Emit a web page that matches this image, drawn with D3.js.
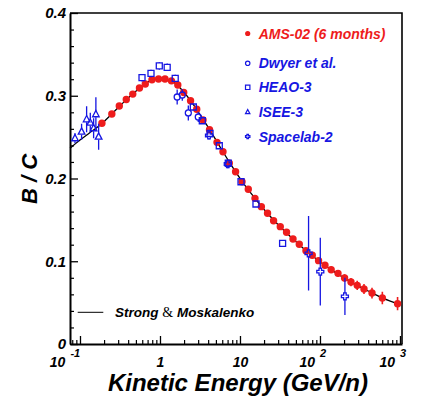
<!DOCTYPE html>
<html>
<head>
<meta charset="utf-8">
<script src="https://cdn.jsdelivr.net/npm/d3@7"></script>
<style>
  body { margin: 0; background: #fff; }
  svg { display: block; }
</style>
</head>
<body>
<svg id="chart" width="422" height="401"></svg>
<script>
// AMS-02 (6 months)
const amsE = [0.188, 0.250, 0.310, 0.379, 0.457, 0.554, 0.655, 0.794, 0.96, 1.155, 1.39, 1.67, 1.98, 2.41, 2.88,
  3.45, 4.16, 5.16, 6.13, 7.35, 8.81, 10.6, 12.7, 15.4, 18.5, 22.1, 26.3, 31.9, 38.2, 46.0, 55.1, 66.8, 80.1,
  96.0, 115.5, 138, 168, 203, 244, 292, 355, 447, 602, 933];
const amsBC = [0.2667, 0.278, 0.2876, 0.2955, 0.302, 0.3094, 0.3142, 0.3193, 0.3202, 0.3202, 0.318, 0.313, 0.304,
  0.294, 0.2836, 0.2707, 0.259, 0.2437, 0.2324, 0.2184, 0.2082, 0.1961, 0.187, 0.176, 0.166, 0.158, 0.149, 0.1418,
  0.135, 0.1269, 0.1205, 0.1127, 0.1072, 0.1007, 0.0951, 0.0898, 0.0854, 0.0798, 0.0749, 0.0709, 0.0665, 0.0616,
  0.0556, 0.0487];
const amsErr = [0.002, 0.002, 0.002, 0.002, 0.002, 0.002, 0.002, 0.002, 0.002, 0.002, 0.002, 0.002, 0.002, 0.002,
  0.002, 0.002, 0.002, 0.002, 0.002, 0.002, 0.002, 0.002, 0.002, 0.002, 0.002, 0.002, 0.002, 0.002, 0.002, 0.002,
  0.0025, 0.003, 0.003, 0.0035, 0.0035, 0.004, 0.004, 0.0045, 0.005, 0.0055, 0.006, 0.0065, 0.0075, 0.008];

// Dwyer et al.
const dwyerE = [1.64, 1.9, 2.26, 3.01];
const dwyerBC = [0.2985, 0.3009, 0.2792, 0.2743];
const dwyerErr = [0.009, 0.007, 0.009, 0.006];

// HEAO-3
const heaoE = [0.596, 0.772, 0.98, 1.23, 1.55, 2.61, 3.38, 4.22, 5.51, 7.14, 10.3, 15.85, 34.1];
const heaoBC = [0.3218, 0.327, 0.336, 0.3344, 0.321, 0.2864, 0.2698, 0.2546, 0.2396, 0.2184, 0.1961, 0.1692, 0.1217];
const heaoErr = [0.0045, 0.0045, 0.0045, 0.0045, 0.0045, 0.003, 0.003, 0.003, 0.003, 0.003, 0.003, 0.003, 0.003];

// ISEE-3
const iseeE = [0.0866, 0.1047, 0.121, 0.1345, 0.148, 0.158, 0.171];
const iseeBC = [0.2486, 0.2566, 0.2715, 0.2674, 0.2607, 0.2776, 0.2505];
const iseeErr = [0.006, 0.0097, 0.0157, 0.012, 0.012, 0.0205, 0.0157];

// Spacelab-2
const slE = [4.1, 7.04, 72.0, 100.9, 205];
const slBC = [0.252, 0.2175, 0.1096, 0.0874, 0.0576];
const slErr = [0.005, 0.005, 0.045, 0.041, 0.0226];

// Strong & Moskalenko model curve
const modelE = [0.075, 0.1, 0.13, 0.19, 0.25, 0.35, 0.5, 0.7, 0.9, 1.1, 1.4, 1.8, 2.4, 3.2, 4.5, 6, 8, 11, 15, 20,
  30, 45, 70, 100, 150, 250, 400, 600, 1000];
const modelBC = [0.2365, 0.2465, 0.2548, 0.2668, 0.278, 0.292, 0.3055, 0.3165, 0.32, 0.3205, 0.318, 0.309, 0.2945,
  0.2765, 0.254, 0.2338, 0.2143, 0.1945, 0.1775, 0.1625, 0.1442, 0.1278, 0.1112, 0.0995, 0.0875, 0.0745, 0.064,
  0.0557, 0.0478];

const yMajor = [0, 0.1, 0.2, 0.3, 0.4];
const xMajor = [0.1, 1, 10, 100, 1000];
const xExp = [-1, 0, 1, 2, 3];

const legendLabels = ["AMS-02 (6 months)", "Dwyer et al.", "HEAO-3", "ISEE-3", "Spacelab-2"];

const RED = "#ee1c1c";
const BLUE = "#1616e2";
const FONT = "'Liberation Sans', Arial, Helvetica, sans-serif";

let svg = d3.select("#chart");
let padL = 70, padR = 402, padT = 13, padB = 344;

let x = d3.scaleLog().domain([0.075, 1060]).range([padL, padR]);
let y = d3.scaleLinear().domain([0, 0.4]).range([padB, padT]);

// minor ticks
let yMinor = d3.range(0, 0.401, 0.02).filter(v => Math.abs(v * 10 - Math.round(v * 10)) > 1e-6);
let xMinor = [];
[0.01, 0.1, 1, 10, 100].forEach(dec => {
  for (let k = 2; k <= 9; k++) {
    let v = dec * k;
    if (v >= 0.075 && v <= 1060) xMinor.push(v);
  }
});

// frame top & right
svg.append("path")
  .attr("d", `M${padL},${padT}H${padR}V${padB}`)
  .attr("fill", "none")
  .attr("stroke", "#000")
  .attr("stroke-width", 1.6);

// y axis
let gy = svg.append("g")
  .attr("transform", `translate(${padL},0)`)
  .call(d3.axisLeft(y).tickValues(yMajor).tickSize(-8).tickSizeOuter(0).tickPadding(4)
    .tickFormat(d => d === 0 ? "0" : d3.format(".1f")(d)));
gy.select(".domain").attr("stroke-width", 2);
gy.selectAll(".tick line").attr("stroke-width", 1.3);
gy.selectAll(".tick text")
  .attr("font-family", FONT)
  .attr("font-size", 15)
  .attr("font-weight", "bold")
  .attr("font-style", "italic")
  .attr("fill", "#000");

let gyMinor = svg.append("g")
  .attr("transform", `translate(${padL},0)`)
  .call(d3.axisLeft(y).tickValues(yMinor).tickSize(-4).tickFormat(""));
gyMinor.select(".domain").remove();
gyMinor.selectAll("text").remove();
gyMinor.selectAll(".tick line").attr("stroke-width", 1.2);

// x axis
let gx = svg.append("g")
  .attr("transform", `translate(0,${padB})`)
  .call(d3.axisBottom(x).tickValues(xMajor).tickSize(-8).tickSizeOuter(0).tickFormat(""));
gx.select(".domain").attr("stroke-width", 2);
gx.selectAll(".tick line").attr("stroke-width", 1.3);
gx.selectAll(".tick text").remove();
gx.selectAll(".tick").each(function (d, i) {
  let e = xExp[i];
  let t = d3.select(this).append("text")
    .attr("y", 22.5)
    .attr("font-family", FONT)
    .attr("font-size", 14)
    .attr("font-weight", "bold")
    .attr("font-style", "italic")
    .attr("fill", "#000");
  if (e === 0 || e === 1) {
    t.attr("text-anchor", "middle").text(e === 0 ? "1" : "10");
  } else {
    t.attr("x", e < 0 ? -15.5 : -7.6);
    t.append("tspan").text("10");
    t.append("tspan").attr("dx", 5).attr("dy", -10).attr("font-size", 11).text(e);
  }
});

let gxMinor = svg.append("g")
  .attr("transform", `translate(0,${padB})`)
  .call(d3.axisBottom(x).tickValues(xMinor).tickSize(-4).tickFormat(""));
gxMinor.select(".domain").remove();
gxMinor.selectAll("text").remove();
gxMinor.selectAll(".tick line").attr("stroke-width", 1.2);

// axis titles
svg.append("text")
  .attr("x", 368)
  .attr("y", 391)
  .attr("text-anchor", "end")
  .attr("font-family", FONT)
  .attr("font-size", 24)
  .attr("font-weight", "bold")
  .attr("font-style", "italic")
  .text("Kinetic Energy (GeV/n)");

svg.append("text")
  .attr("transform", "translate(37,179) rotate(-90)")
  .attr("text-anchor", "middle")
  .attr("font-family", FONT)
  .attr("font-size", 22)
  .attr("font-weight", "bold")
  .attr("font-style", "italic")
  .text("B / C");

// model curve
let modelData = modelE.map((e, i) => ({ e: e, v: modelBC[i] }));
svg.append("path")
  .datum(modelData)
  .attr("fill", "none")
  .attr("stroke", "#000")
  .attr("stroke-width", 1.3)
  .attr("d", d3.line().x(d => x(d.e)).y(d => y(d.v)).curve(d3.curveMonotoneX));

// marker shapes
let openCross = (s) => {
  let a = s, b = s * 0.36;
  return `M${-b},${-a}H${b}V${-b}H${a}V${b}H${b}V${a}H${-b}V${b}H${-a}V${-b}H${-b}Z`;
};
let shapes = {
  circle: (s) => d3.symbol(d3.symbolCircle, Math.PI * s * s)(),
  square: (s) => `M${-s},${-s}H${s}V${s}H${-s}Z`,
  triangle: (s) => `M0,${-s * 1.15}L${s},${s * 0.75}L${-s},${s * 0.75}Z`,
  cross: openCross
};

let drawSeries = (es, vs, errs, opt) => {
  let data = es.map((e, i) => ({ e: e, v: vs[i], err: errs[i] }));
  let g = svg.append("g");
  // error bars with gap at the marker
  g.selectAll("path.err")
    .data(data)
    .enter()
    .append("path")
    .attr("class", "err")
    .attr("stroke", opt.color)
    .attr("stroke-width", opt.barWidth)
    .attr("fill", "none")
    .attr("d", d => {
      let cx = x(d.e), cy = y(d.v);
      let y1 = y(d.v + d.err), y2 = y(d.v - d.err);
      let gap = opt.gap;
      if (cy - y1 <= gap) return "";
      return `M${cx},${y1}V${cy - gap}M${cx},${cy + gap}V${y2}`;
    });
  g.selectAll("path.mk")
    .data(data)
    .enter()
    .append("path")
    .attr("class", "mk")
    .attr("transform", d => `translate(${x(d.e)},${y(d.v)})`)
    .attr("d", shapes[opt.shape](opt.size))
    .attr("fill", opt.filled ? opt.color : "none")
    .attr("stroke", opt.color)
    .attr("stroke-width", opt.filled ? 0 : 1.3);
};

drawSeries(amsE, amsBC, amsErr, { color: RED, shape: "circle", size: 3.7, filled: true, barWidth: 1.6, gap: 0 });
drawSeries(dwyerE, dwyerBC, dwyerErr, { color: BLUE, shape: "circle", size: 3, filled: false, barWidth: 1.3, gap: 3 });
drawSeries(heaoE, heaoBC, heaoErr, { color: BLUE, shape: "square", size: 3, filled: false, barWidth: 1.3, gap: 3 });
drawSeries(iseeE, iseeBC, iseeErr, { color: BLUE, shape: "triangle", size: 3.3, filled: false, barWidth: 1.3, gap: 3 });
drawSeries(slE, slBC, slErr, { color: BLUE, shape: "cross", size: 3.5, filled: false, barWidth: 1.3, gap: 3 });

// legend (top right)
let legendShapes = ["circle", "circle", "square", "triangle", "cross"];
let legendBase = [38.5, 68.3, 92.3, 117, 141.5];
let legend = svg.append("g");
legendLabels.forEach((lab, i) => {
  let color = i === 0 ? RED : BLUE;
  let filled = i === 0;
  let s = i === 0 ? 2.6 : 2.2;
  legend.append("path")
    .attr("transform", `translate(247.7,${legendBase[i] - 5})`)
    .attr("d", shapes[legendShapes[i]](s))
    .attr("fill", filled ? color : "none")
    .attr("stroke", color)
    .attr("stroke-width", filled ? 0 : 1.2);
  legend.append("text")
    .attr("x", 258.7)
    .attr("y", legendBase[i])
    .attr("font-family", FONT)
    .attr("font-size", 14)
    .attr("font-weight", "bold")
    .attr("font-style", "italic")
    .attr("fill", color)
    .text(lab);
});

// legend (model)
svg.append("line")
  .attr("x1", 77.7).attr("x2", 103.3)
  .attr("y1", 312.3).attr("y2", 312.3)
  .attr("stroke", "#000")
  .attr("stroke-width", 1);
let st = svg.append("text")
  .attr("x", 115)
  .attr("y", 316.5)
  .attr("font-family", FONT)
  .attr("font-size", 13.5)
  .attr("font-weight", "bold")
  .attr("font-style", "italic")
  .attr("fill", "#000");
st.append("tspan").text("Strong ");
st.append("tspan")
  .attr("font-family", "'Liberation Serif', 'Times New Roman', serif")
  .attr("font-weight", "normal")
  .attr("font-style", "normal")
  .attr("font-size", 14)
  .attr("fill", "#000")
  .text("&");
st.append("tspan").text(" Moskalenko");
</script>
</body>
</html>
